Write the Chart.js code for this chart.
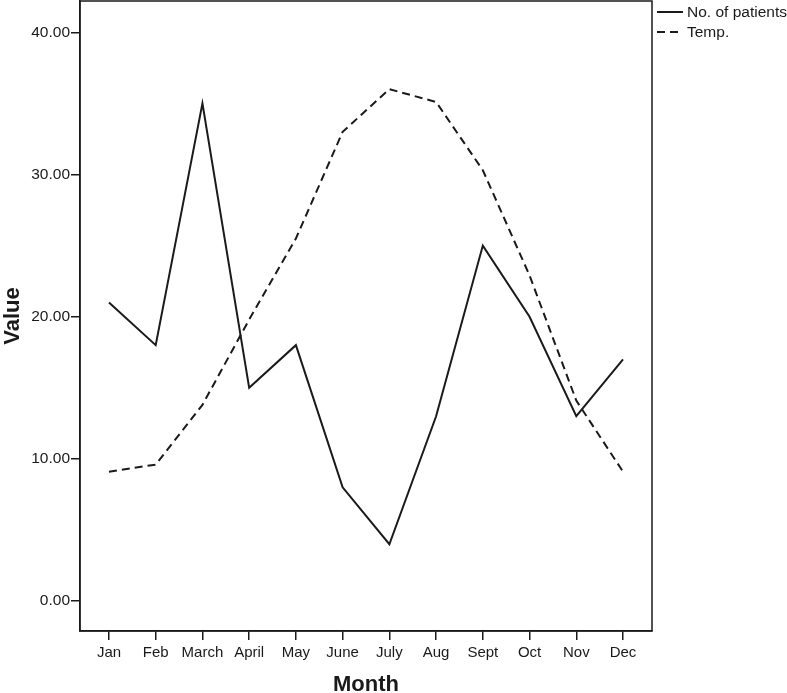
<!DOCTYPE html>
<html lang="en">
<head>
  <meta charset="UTF-8">
  <title>Patients and temperature by month</title>
  <script src="https://cdn.jsdelivr.net/npm/chart.js"></script>
  <style>
    html, body { margin: 0; padding: 0; background: #fff; }
    #wrap { width: 787px; height: 693px; }
  </style>
</head>
<body>
  <div id="wrap"><canvas id="chart" width="787" height="693"></canvas></div>
  <script>
    const months = ['Jan', 'Feb', 'March', 'April', 'May', 'June', 'July', 'Aug', 'Sept', 'Oct', 'Nov', 'Dec'];
    const patients = [21, 18, 35, 15, 18, 8, 4, 13, 25, 20, 13, 17];
    const temp = [9.1, 9.6, 13.8, 19.8, 25.5, 33.0, 36.0, 35.1, 30.3, 22.9, 14.1, 9.1];
    const yTicks = [0, 10, 20, 30, 40];

    const ink = '#1a1a1a';
    const font = 'Arial, "Liberation Sans", sans-serif';

    // frame round the plot + legend at the right
    const framePlugin = {
      id: 'frame',
      afterDraw(chart) {
        const { ctx, chartArea: a } = chart;
        ctx.save();
        ctx.strokeStyle = ink;
        ctx.lineWidth = 1.5;
        ctx.strokeRect(a.left, a.top, a.right - a.left, a.bottom - a.top);

        ctx.font = '15.5px ' + font;
        ctx.fillStyle = ink;
        ctx.textBaseline = 'middle';
        chart.data.datasets.forEach((ds, i) => {
          const y = 12 + i * 20;
          ctx.beginPath();
          ctx.setLineDash(ds.borderDash || []);
          ctx.lineWidth = 2;
          ctx.moveTo(657, y);
          ctx.lineTo(683, y);
          ctx.stroke();
          ctx.setLineDash([]);
          ctx.fillText(ds.label, 687, y + 1);
        });
        ctx.restore();
      }
    };

    new Chart(document.getElementById('chart'), {
      type: 'line',
      data: {
        datasets: [{
          label: 'No. of patients',
          data: patients.map((v, i) => ({ x: i, y: v })),
          borderColor: ink,
          borderWidth: 2,
          pointRadius: 0,
          tension: 0,
        }, {
          label: 'Temp.',
          data: temp.map((v, i) => ({ x: i, y: v })),
          borderColor: ink,
          borderWidth: 2,
          borderDash: [8, 5],
          pointRadius: 0,
          tension: 0,
        }],
      },
      options: {
        responsive: false,
        animation: false,
        layout: { padding: { top: 1, right: 135, left: 0, bottom: 0 } },
        plugins: {
          legend: { display: false },
          tooltip: { enabled: false },
        },
        scales: {
          x: {
            type: 'linear',
            min: -0.62,
            max: 11.62,
            afterBuildTicks: (s) => { s.ticks = months.map((m, i) => ({ value: i })); },
            afterFit: (s) => { s.height = 62; s.paddingLeft = 0; s.paddingRight = 0; },
            grid: { drawOnChartArea: false, tickLength: 9, color: ink, lineWidth: 1.5 },
            border: { display: true, color: ink, width: 1.5 },
            ticks: {
              color: ink,
              font: { family: font, size: 15 },
              padding: 4,
              maxRotation: 0,
              autoSkip: false,
              callback: (v) => months[v],
            },
            title: {
              display: true,
              text: 'Month',
              color: ink,
              font: { family: font, size: 22, weight: 'bold' },
              padding: { top: 16, bottom: -5 },
            },
          },
          y: {
            min: -2.1,
            max: 42.2,
            afterBuildTicks: (s) => { s.ticks = yTicks.map((v) => ({ value: v })); },
            afterFit: (s) => { s.width = 80; s.paddingTop = 0; s.paddingBottom = 0; },
            grid: { drawOnChartArea: false, tickLength: 9, color: ink, lineWidth: 1.5 },
            border: { display: true, color: ink, width: 1.5 },
            ticks: {
              color: ink,
              font: { family: font, size: 15.5 },
              padding: 1,
              callback: (v) => v.toFixed(2),
            },
            title: {
              display: true,
              text: 'Value',
              color: ink,
              font: { family: font, size: 22, weight: 'bold' },
              padding: { top: 0, bottom: 0 },
            },
          },
        },
      },
      plugins: [framePlugin],
    });
  </script>
</body>
</html>
